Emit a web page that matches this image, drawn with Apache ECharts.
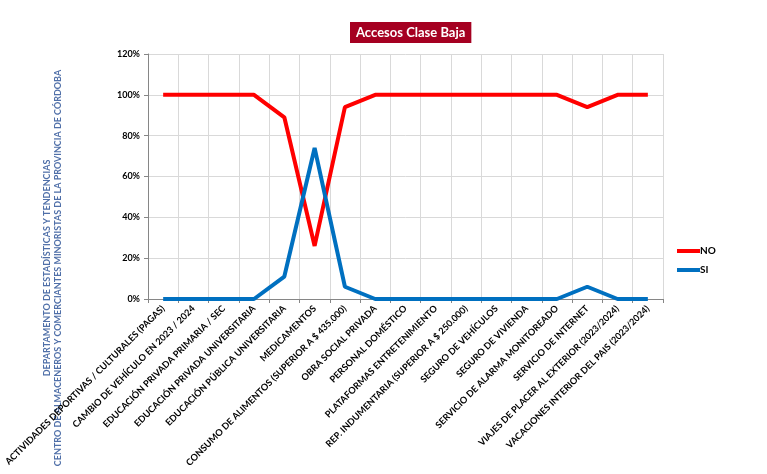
<!DOCTYPE html>
<html><head><meta charset="utf-8">
<script src="https://cdn.jsdelivr.net/npm/echarts@6/dist/echarts.min.js"></script>
<style>html,body{margin:0;padding:0;background:#fff}#c{width:767px;height:474px}</style>
</head><body><div id="c"></div>
<script>
const categories = [
  "ACTIVIDADES DEPORTIVAS / CULTURALES (PAGAS)",
  "CAMBIO DE VEHÍCULO EN 2023 / 2024",
  "EDUCACIÓN PRIVADA PRIMARIA / SEC",
  "EDUCACIÓN PRIVADA UNIVERSITARIA",
  "EDUCACIÓN PÚBLICA UNIVERSITARIA",
  "MEDICAMENTOS",
  "CONSUMO DE ALIMENTOS (SUPERIOR A $ 435.000)",
  "OBRA SOCIAL PRIVADA",
  "PERSONAL DOMÉSTICO",
  "PLATAFORMAS ENTRETENIMIENTO",
  "REP. INDUMENTARIA (SUPERIOR A $ 250.000)",
  "SEGURO DE VEHÍCULOS",
  "SEGURO DE VIVIENDA",
  "SERVICIO DE ALARMA MONITOREADO",
  "SERVICIO DE INTERNET",
  "VIAJES DE PLACER AL EXTERIOR (2023/2024)",
  "VACACIONES INTERIOR DEL PAIS (2023/2024)"
];
const noValues = [100,100,100,100,89,26,94,100,100,100,100,100,100,100,94,100,100];
const siValues = [0,0,0,0,11,74,6,0,0,0,0,0,0,0,6,0,0];
const seriesNames = ["NO","SI"];
const titleText = "Accesos Clase Baja";
const sideLine1 = "DEPARTAMENTO DE ESTADÍSTICAS Y TENDENCIAS";
const sideLine2 = "CENTRO DE ALMACENEROS Y COMERCIANTES MINORISTAS DE LA PROVINCIA DE CÓRDOBA";

const FONT = "Lato";
const chart = echarts.init(document.getElementById('c'), null, {renderer:'canvas'});
chart.setOption({
  animation:false,
  backgroundColor:'#fff',
  title:{
    text:titleText, left:350, top:22,
    backgroundColor:'#A50021', padding:[4,6,4,6],
    textStyle:{color:'#fff', fontFamily:FONT, fontWeight:'bold', fontSize:13}
  },
  legend:{
    orient:'vertical', left:672, top:241, itemGap:9,
    itemWidth:23, itemHeight:4, icon:'rect',
    textStyle:{fontFamily:FONT, fontWeight:'bold', fontSize:10, color:'#000', padding:[0,0,0,-5]},
    data:seriesNames
  },
  grid:{left:148, right:104, top:54, bottom:175, containLabel:false, outerBoundsMode:'none'},
  xAxis:{
    type:'category', data:categories, boundaryGap:true,
    axisLine:{lineStyle:{color:'#868686'}},
    axisTick:{show:true, length:4, lineStyle:{color:'#868686'}},
    splitLine:{show:true, lineStyle:{color:'#d9d9d9'}},
    axisLabel:{rotate:45, interval:0, margin:8, fontFamily:FONT, fontWeight:'bold', fontSize:9.2, color:'#000'}
  },
  yAxis:{
    type:'value', min:0, max:120, interval:20,
    axisLine:{show:true, lineStyle:{color:'#868686'}},
    axisTick:{show:true, length:4, lineStyle:{color:'#868686'}},
    splitLine:{show:true, lineStyle:{color:'#d9d9d9'}},
    axisLabel:{formatter:'{value}%', margin:8, fontFamily:FONT, fontWeight:'bold', fontSize:9, color:'#000'}
  },
  series:[
    {name:seriesNames[0], type:'line', data:noValues, symbol:'none', color:'#FF0000', lineStyle:{width:4, color:'#FF0000'}},
    {name:seriesNames[1], type:'line', data:siValues, symbol:'none', color:'#0070C0', lineStyle:{width:4, color:'#0070C0'}}
  ],
  graphic:[
    {type:'text', x:47, y:268, rotation:Math.PI/2,
     style:{text:sideLine1, align:'center', verticalAlign:'middle', fill:'#4F6FA8', font:'bold 9px '+FONT}},
    {type:'text', x:58, y:268, rotation:Math.PI/2,
     style:{text:sideLine2, align:'center', verticalAlign:'middle', fill:'#4F6FA8', font:'bold 9px '+FONT}}
  ]
});
</script></body></html>
